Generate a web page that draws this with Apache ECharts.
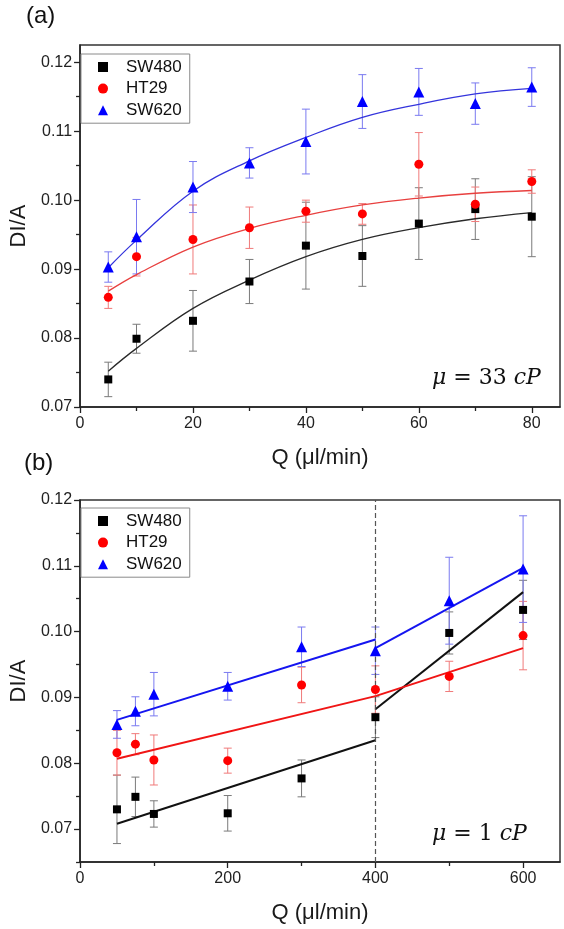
<!DOCTYPE html>
<html><head><meta charset="utf-8">
<script src="https://cdn.jsdelivr.net/npm/echarts@6/dist/echarts.min.js"></script>
<style>html,body{margin:0;padding:0;background:#fff}#c{width:564px;height:929px}</style>
</head><body><div id="c"></div>
<script>
// ---------- data ----------
const seriesNames = ['SW480', 'HT29', 'SW620'];

// panel (a): mu = 33 cP
const qA = [5, 10, 20, 30, 40, 50, 60, 70, 80];
const sw480A = [0.0740, 0.0799, 0.0825, 0.0882, 0.0934, 0.0919, 0.0966, 0.0987, 0.0976];
const sw480AErr = [0.0025, 0.0021, 0.0044, 0.0032, 0.0063, 0.0044, 0.0052, 0.0044, 0.0058];
const ht29A = [0.0859, 0.0918, 0.0943, 0.0960, 0.0984, 0.0980, 0.1052, 0.0994, 0.1027];
const ht29AErr = [0.0016, 0.0028, 0.0050, 0.0030, 0.0016, 0.0015, 0.0046, 0.0025, 0.0017];
const sw620A = [0.0903, 0.0947, 0.1019, 0.1054, 0.1085, 0.1143, 0.1157, 0.1140, 0.1164];
const sw620AErr = [0.0022, 0.0054, 0.0037, 0.0022, 0.0047, 0.0039, 0.0034, 0.0030, 0.0028];
// fitted curves at the same Q values
const fitSw480A = [0.0752, 0.0785, 0.0843, 0.0884, 0.0918, 0.0943, 0.0960, 0.0973, 0.0982];
const fitHt29A = [0.0868, 0.0892, 0.0932, 0.0959, 0.0978, 0.0993, 0.1003, 0.1010, 0.1014];
const fitSw620A = [0.0902, 0.0942, 0.1013, 0.1057, 0.1091, 0.1120, 0.1139, 0.1154, 0.1162];

// panel (b): mu = 1 cP
const qB = [50, 75, 100, 200, 300, 400, 500, 600];
const sw480B = [0.0730, 0.0749, 0.0723, 0.0724, 0.0777, 0.0870, 0.0998, 0.1033];
const sw480BErr = [0.0052, 0.0030, 0.0020, 0.0027, 0.0028, 0.0031, 0.0032, 0.0045];
const ht29B = [0.0816, 0.0829, 0.0805, 0.0804, 0.0919, 0.0912, 0.0932, 0.0994];
const ht29BErr = [0.0034, 0.0016, 0.0038, 0.0019, 0.0027, 0.0036, 0.0023, 0.0052];
const sw620B = [0.0859, 0.0879, 0.0905, 0.0917, 0.0977, 0.0971, 0.1047, 0.1095];
const sw620BErr = [0.0021, 0.0022, 0.0033, 0.0021, 0.0030, 0.0036, 0.0066, 0.0081];
// piecewise linear fits (below / above Q = 400)
const fitQB1 = [50, 400];
const fitQB2 = [400, 600];
const fitSw480B1 = [0.0708, 0.0835];
const fitSw480B2 = [0.0882, 0.1060];
const fitHt29B1 = [0.0807, 0.0902];
const fitHt29B2 = [0.0902, 0.0975];
const fitSw620B1 = [0.0866, 0.0988];
const fitSw620B2 = [0.0975, 0.1097];
const breakQ = 400;

// ticks
const xTicksA = [0, 20, 40, 60, 80];
const xMinorA = [10, 30, 50, 70];
const yTicksA = [0.07, 0.08, 0.09, 0.10, 0.11, 0.12];
const yMinorA = [0.075, 0.085, 0.095, 0.105, 0.115];
const xTicksB = [0, 200, 400, 600];
const xMinorB = [100, 300, 500];
const yTicksB = [0.07, 0.08, 0.09, 0.10, 0.11, 0.12];
const yMinorB = [0.065, 0.075, 0.085, 0.095, 0.105, 0.115];

// ---------- styling ----------
const FONT = 'Liberation Sans, Arial, sans-serif';
const markerColor = ['#000000', '#ff0000', '#0000ff'];
const markerSymbol = ['rect', 'circle', 'triangle'];
const markerSize = [8, 9, 11];
const errColor = ['#7a7a7a', '#f07a7a', '#7a7af0'];
const fitColorA = ['#2a2a2a', '#e8403f', '#3434dc'];
const fitColorB = ['#111111', '#f01515', '#1515f0'];

const chart = echarts.init(document.getElementById('c'), null, {renderer: 'canvas'});

function pairs(x, y) { return x.map((v, i) => [v, y[i]]); }

function errSeries(k, q, v, e, xi, yi) {
  return {
    type: 'custom', name: seriesNames[k] + ' error', xAxisIndex: xi, yAxisIndex: yi,
    silent: true, z: 1,
    data: q.map((x, i) => [x, v[i] - e[i], v[i] + e[i]]),
    encode: {x: 0, y: [1, 2]},
    renderItem: function (params, api) {
      const x = api.value(0);
      const lo = api.coord([x, api.value(1)]);
      const hi = api.coord([x, api.value(2)]);
      const w = 4;
      const st = {stroke: errColor[k], lineWidth: 1, fill: null};
      return {type: 'group', children: [
        {type: 'line', shape: {x1: lo[0], y1: lo[1], x2: hi[0], y2: hi[1]}, style: st},
        {type: 'line', shape: {x1: lo[0] - w, y1: lo[1], x2: lo[0] + w, y2: lo[1]}, style: st},
        {type: 'line', shape: {x1: hi[0] - w, y1: hi[1], x2: hi[0] + w, y2: hi[1]}, style: st}
      ]};
    }
  };
}
function scatterSeries(k, q, v, xi, yi) {
  return {
    type: 'scatter', name: seriesNames[k], xAxisIndex: xi, yAxisIndex: yi, z: 5,
    symbol: markerSymbol[k], symbolSize: markerSize[k],
    itemStyle: {color: markerColor[k], opacity: 1},
    data: pairs(q, v)
  };
}
function lineSeries(k, q, v, xi, yi, color, width, smooth, extra) {
  return Object.assign({
    type: 'line', name: seriesNames[k] + ' fit', xAxisIndex: xi, yAxisIndex: yi, z: 3,
    showSymbol: false, symbol: 'none', smooth: smooth, silent: true,
    lineStyle: {color: color, width: width},
    data: pairs(q, v)
  }, extra || {});
}

function mainX(grid, min, max, ticks) {
  return {
    type: 'value', gridIndex: grid, min: min, max: max, position: 'bottom',
    name: 'Q (\u03bcl/min)', nameLocation: 'middle', nameGap: 40,
    nameTextStyle: {fontFamily: FONT, fontSize: 22, color: '#1a1a1a'},
    axisLine: {show: true, onZero: false, lineStyle: {color: '#222', width: 1.5}},
    axisTick: {show: true, inside: false, length: 6, customValues: ticks, lineStyle: {color: '#222', width: 1.3}},
    axisLabel: {show: true, customValues: ticks, margin: 9, fontFamily: FONT, fontSize: 16, color: '#222',
      formatter: v => String(v)},
    splitLine: {show: false}
  };
}
function minorX(grid, min, max, ticks) {
  return {
    type: 'value', gridIndex: grid, min: min, max: max, position: 'bottom', offset: 0,
    axisLine: {show: false, onZero: false},
    axisTick: {show: true, inside: false, length: 4, customValues: ticks, lineStyle: {color: '#222', width: 1.3}},
    axisLabel: {show: false}, splitLine: {show: false}
  };
}
function mainY(grid, min, max, ticks) {
  return {
    type: 'value', gridIndex: grid, min: min, max: max, position: 'left',
    name: 'DI/A', nameLocation: 'middle', nameGap: 50,
    nameTextStyle: {fontFamily: FONT, fontSize: 22, color: '#1a1a1a'},
    axisLine: {show: true, onZero: false, lineStyle: {color: '#222', width: 1.5}},
    axisTick: {show: true, inside: false, length: 6, customValues: ticks, lineStyle: {color: '#222', width: 1.3}},
    axisLabel: {show: true, customValues: ticks, margin: 8, fontFamily: FONT, fontSize: 16, color: '#222',
      formatter: v => v.toFixed(2)},
    splitLine: {show: false}
  };
}
function minorY(grid, min, max, ticks) {
  return {
    type: 'value', gridIndex: grid, min: min, max: max, position: 'left', offset: 0,
    axisLine: {show: false, onZero: false},
    axisTick: {show: true, inside: false, length: 4, customValues: ticks, lineStyle: {color: '#222', width: 1.3}},
    axisLabel: {show: false}, splitLine: {show: false}
  };
}
function legendAt(top) {
  return {
    data: seriesNames, orient: 'vertical', left: 81, top: top,
    itemWidth: 10, itemHeight: 10, itemGap: 4.6,
    padding: [4.5, 8, 4.5, 17],
    borderColor: '#8a8a8a', borderWidth: 1, backgroundColor: '#fff',
    selectedMode: false,
    textStyle: {fontFamily: FONT, fontSize: 17, color: '#111', lineHeight: 17, padding: [0, 0, 0, 13]}
  };
}
function muText(x, y, num) {
  return {
    type: 'text', left: x, top: y, z: 10,
    style: {
      text: '{i|\u03bc} {n|= ' + num + '} {i|cP}',
      rich: {
        i: {fontFamily: 'DejaVu Serif', fontStyle: 'italic', fontSize: 22, fill: '#111'},
        n: {fontFamily: 'DejaVu Serif', fontSize: 22, fill: '#111'}
      },
      fill: '#111', font: '22px DejaVu Serif'
    }
  };
}

const option = {
  animation: false,
  backgroundColor: '#fff',
  grid: [
    {left: 72, right: 4, top: 45, height: 362, show: true, borderColor: '#333', borderWidth: 1.5, backgroundColor: 'transparent'},
    {left: 72, right: 4, top: 500, height: 362, show: true, borderColor: '#333', borderWidth: 1.5, backgroundColor: 'transparent'}
  ],
  xAxis: [
    mainX(0, 0, 85, xTicksA), minorX(0, 0, 85, xMinorA),
    mainX(1, 0, 650, xTicksB), minorX(1, 0, 650, xMinorB)
  ],
  yAxis: [
    mainY(0, 0.07, 0.1225, yTicksA), minorY(0, 0.07, 0.1225, yMinorA),
    mainY(1, 0.065, 0.12, yTicksB), minorY(1, 0.065, 0.12, yMinorB)
  ],
  legend: [legendAt(54), legendAt(508)],
  graphic: [
    {type: 'text', left: 26, top: 4, style: {text: '(a)', font: '24px Liberation Sans', fill: '#111'}},
    {type: 'text', left: 24, top: 451, style: {text: '(b)', font: '24px Liberation Sans', fill: '#111'}},
    muText(432, 367, '33'),
    muText(432, 823, '1')
  ],
  series: [
    // panel (a)
    scatterSeries(0, qA, sw480A, 0, 0),
    scatterSeries(1, qA, ht29A, 0, 0),
    scatterSeries(2, qA, sw620A, 0, 0),
    errSeries(0, qA, sw480A, sw480AErr, 0, 0),
    errSeries(1, qA, ht29A, ht29AErr, 0, 0),
    errSeries(2, qA, sw620A, sw620AErr, 0, 0),
    lineSeries(0, qA, fitSw480A, 0, 0, fitColorA[0], 1.3, 0.4),
    lineSeries(1, qA, fitHt29A, 0, 0, fitColorA[1], 1.3, 0.4),
    lineSeries(2, qA, fitSw620A, 0, 0, fitColorA[2], 1.3, 0.4),
    // panel (b)
    scatterSeries(0, qB, sw480B, 2, 2),
    scatterSeries(1, qB, ht29B, 2, 2),
    scatterSeries(2, qB, sw620B, 2, 2),
    errSeries(0, qB, sw480B, sw480BErr, 2, 2),
    errSeries(1, qB, ht29B, ht29BErr, 2, 2),
    errSeries(2, qB, sw620B, sw620BErr, 2, 2),
    lineSeries(0, fitQB1, fitSw480B1, 2, 2, fitColorB[0], 2, false, {
      markLine: {silent: true, symbol: ['none', 'none'], label: {show: false},
        lineStyle: {type: [5, 3], color: '#555', width: 1.2}, data: [{xAxis: breakQ}]}
    }),
    lineSeries(0, fitQB2, fitSw480B2, 2, 2, fitColorB[0], 2, false),
    lineSeries(1, fitQB1, fitHt29B1, 2, 2, fitColorB[1], 2, false),
    lineSeries(1, fitQB2, fitHt29B2, 2, 2, fitColorB[1], 2, false),
    lineSeries(2, fitQB1, fitSw620B1, 2, 2, fitColorB[2], 2, false),
    lineSeries(2, fitQB2, fitSw620B2, 2, 2, fitColorB[2], 2, false)
  ]
};
chart.setOption(option);
</script>
</body></html>
